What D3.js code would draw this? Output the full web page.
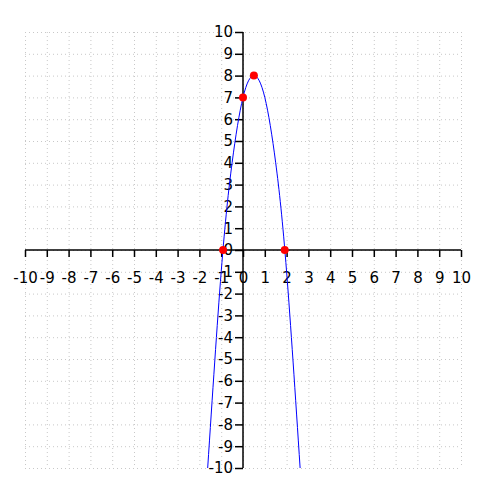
<!DOCTYPE html>
<html><head><meta charset="utf-8">
<script src="https://cdn.jsdelivr.net/npm/d3@7"></script>
<style>body{margin:0;background:#fff}svg{display:block}</style>
</head><body>
<svg id="c" width="500" height="500"></svg>
<script>
const xTicks = [-10,-9,-8,-7,-6,-5,-4,-3,-2,-1,0,1,2,3,4,5,6,7,8,9,10];
const yTicks = [-10,-9,-8,-7,-6,-5,-4,-3,-2,-1,0,1,2,3,4,5,6,7,8,9,10];
const curveX = [-1.62,-1,-0.5,0,0.5,1,1.5,2,2.62];
const curveY = [-10,-1,4,7,8,7,4,-1,-10];
const pointX = [-0.914,0,0.5,1.914];
const pointY = [0,7,8,0];

const svg = d3.select("#c");
const x = d3.scaleLinear().domain([-10,10]).range([25,461]);
const y = d3.scaleLinear().domain([-10,10]).range([468,32]);
const font = "DejaVu Sans, sans-serif";

// grid
const g = svg.append("g");
g.selectAll("line.gx").data(xTicks).join("line")
  .attr("x1",d=>x(d)+0.5).attr("x2",d=>x(d)+0.5).attr("y1",y(10)).attr("y2",y(-10))
  .attr("stroke","#c8c8c8").attr("stroke-width",1).attr("stroke-dasharray","1,3");
g.selectAll("line.gy").data(yTicks).join("line")
  .attr("y1",d=>y(d)+0.5).attr("y2",d=>y(d)+0.5).attr("x1",x(-10)).attr("x2",x(10))
  .attr("stroke","#c8c8c8").attr("stroke-width",1).attr("stroke-dasharray","1,3");

// axes
const fmt = d => String(d);
const xAxis = d3.axisBottom(x).tickValues(xTicks).tickFormat(fmt).tickSize(7).tickPadding(15);
const yAxis = d3.axisLeft(y).tickValues(yTicks).tickFormat(fmt).tickSize(8).tickPadding(2);
const gx = svg.append("g").attr("transform",`translate(0,${y(0)})`).call(xAxis);
const gy = svg.append("g").attr("transform",`translate(${x(0)},0)`).call(yAxis);
[gx,gy].forEach(a=>{
  a.select(".domain").attr("stroke","#000").attr("stroke-width",1.5);
  a.selectAll(".tick line").attr("stroke","#000").attr("stroke-width",1.5);
  a.selectAll(".tick text").attr("fill","#000").attr("font-family",font).attr("font-size",15);
});
gx.select(".domain").attr("d",`M${x(-10)},0H${x(10)}`);
gy.select(".domain").attr("d",`M0,${y(10)}V${y(-10)}`);

// curve
const line = d3.line().x((d,i)=>x(curveX[i])).y(d=>y(d)).curve(d3.curveNatural);
svg.append("path").attr("d",line(curveY)).attr("fill","none").attr("stroke","#00f").attr("stroke-width",1);

// points
svg.selectAll("circle.p").data(pointX).join("circle")
  .attr("cx",d=>x(d)).attr("cy",(d,i)=>y(pointY[i])).attr("r",4).attr("fill","#f00");
</script>
</body></html>
